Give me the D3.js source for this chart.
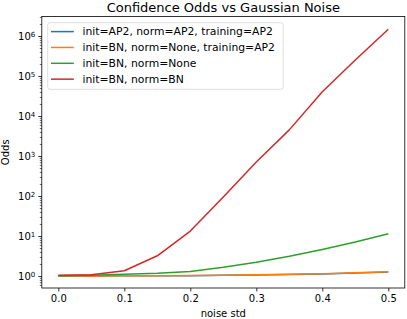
<!DOCTYPE html>
<html>
<head>
<meta charset="utf-8">
<script src="https://cdn.jsdelivr.net/npm/d3@7"></script>
<style>
  body { margin: 0; background: #fff; }
  text { font-family: "DejaVu Sans", sans-serif; }
</style>
</head>
<body>
<div id="chart"></div>
<script>
// data
const noiseStd = [0, 0.05, 0.1, 0.15, 0.2, 0.25, 0.3, 0.35, 0.4, 0.45, 0.5];
const seriesNames = [
  "init=AP2, norm=AP2, training=AP2",
  "init=BN, norm=None, training=AP2",
  "init=BN, norm=None",
  "init=BN, norm=BN"
];
const ap2Odds = [1.0, 1.0, 1.01, 1.01, 1.02, 1.04, 1.06, 1.09, 1.13, 1.19, 1.26];
const bnNoneAp2Odds = [1.0, 1.0, 1.01, 1.02, 1.03, 1.05, 1.07, 1.1, 1.14, 1.2, 1.27];
const bnNoneOdds = [1.02, 1.04, 1.1, 1.17, 1.3, 1.65, 2.2, 3.1, 4.6, 7.1, 11.4];
const bnBnOdds = [1.05, 1.07, 1.35, 3.2, 13.3, 94, 710, 4500, 40500, 2.5e5, 1.47e6];
const colors = ["#1f77b4", "#ff7f0e", "#2ca02c", "#d62728"];
const xTicks = [0, 0.1, 0.2, 0.3, 0.4, 0.5];
const yTicks = [1, 10, 100, 1000, 10000, 100000, 1000000];

const width = 407, height = 319;
const margin = { top: 16.5, right: 2.2, bottom: 31, left: 41.8 };

const svg = d3.select("#chart").append("svg")
  .attr("width", width).attr("height", height);

const x = d3.scaleLinear()
  .domain([-0.025, 0.525])
  .range([margin.left, width - margin.right]);

const y = d3.scaleLog()
  .domain([Math.pow(10, -0.3), Math.pow(10, 6.4875)])
  .range([height - margin.bottom, margin.top]);

// lines
const line = d3.line()
  .x((d, i) => x(noiseStd[i]))
  .y(d => y(d));

const allSeries = [ap2Odds, bnNoneAp2Odds, bnNoneOdds, bnBnOdds];

const plot = svg.append("g");
plot.append("clipPath").attr("id", "clip")
  .append("rect")
  .attr("x", margin.left).attr("y", margin.top)
  .attr("width", width - margin.left - margin.right)
  .attr("height", height - margin.top - margin.bottom);

plot.selectAll("path.series")
  .data(allSeries)
  .join("path")
  .attr("class", "series")
  .attr("clip-path", "url(#clip)")
  .attr("fill", "none")
  .attr("stroke", (d, i) => colors[i])
  .attr("stroke-width", 1.5)
  .attr("stroke-linejoin", "round")
  .attr("d", line);

// x axis
const xAxis = svg.append("g")
  .attr("transform", `translate(0,${height - margin.bottom})`)
  .call(d3.axisBottom(x).tickValues(xTicks).tickFormat(d3.format(".1f"))
    .tickSize(3.5).tickPadding(3.5));
xAxis.select(".domain").remove();
xAxis.selectAll("line").attr("stroke", "#000").attr("stroke-width", 0.8);
xAxis.selectAll("text").attr("font-size", 10).attr("fill", "#000")
  .attr("font-family", "DejaVu Sans");

// y axis with minor ticks
const minor = [];
for (let e = -1; e <= 6; e++) {
  for (let m = 2; m <= 9; m++) {
    const v = m * Math.pow(10, e);
    if (v >= y.domain()[0] && v <= y.domain()[1]) minor.push(v);
  }
}
const yMinor = svg.append("g")
  .attr("transform", `translate(${margin.left},0)`)
  .call(d3.axisLeft(y).tickValues(minor).tickFormat("").tickSize(2));
yMinor.select(".domain").remove();
yMinor.selectAll("line").attr("stroke", "#000").attr("stroke-width", 0.6);

const yAxis = svg.append("g")
  .attr("transform", `translate(${margin.left},0)`)
  .call(d3.axisLeft(y).tickValues(yTicks).tickFormat("").tickSize(3.5));
yAxis.select(".domain").remove();
yAxis.selectAll("line").attr("stroke", "#000").attr("stroke-width", 0.8);

const yLabels = yAxis.selectAll("g.tick").append("text")
  .attr("x", -6.5)
  .attr("dy", "0.36em")
  .attr("text-anchor", "end")
  .attr("fill", "#000")
  .attr("font-size", 10);
yLabels.append("tspan").text("10");
yLabels.append("tspan")
  .attr("dy", "-0.45em")
  .attr("font-size", 7)
  .text(d => Math.round(Math.log10(d)));

// frame
svg.append("rect")
  .attr("x", margin.left).attr("y", margin.top)
  .attr("width", width - margin.left - margin.right)
  .attr("height", height - margin.top - margin.bottom)
  .attr("fill", "none").attr("stroke", "#000").attr("stroke-width", 0.8);

// titles
svg.append("text")
  .attr("x", (margin.left + width - margin.right) / 2)
  .attr("y", 12)
  .attr("text-anchor", "middle")
  .attr("font-size", 13)
  .text("Confidence Odds vs Gaussian Noise");

svg.append("text")
  .attr("x", (margin.left + width - margin.right) / 2)
  .attr("y", 317)
  .attr("text-anchor", "middle")
  .attr("font-size", 10)
  .text("noise std");

svg.append("text")
  .attr("transform", `translate(9,${(margin.top + height - margin.bottom) / 2}) rotate(-90)`)
  .attr("text-anchor", "middle")
  .attr("font-size", 10)
  .text("Odds");

// legend
const legend = svg.append("g");
legend.append("rect")
  .attr("x", 47.7).attr("y", 22.7)
  .attr("width", 235.6).attr("height", 66.6)
  .attr("rx", 2.5)
  .attr("fill", "#fff").attr("fill-opacity", 0.8)
  .attr("stroke", "#d6d6d6").attr("stroke-width", 0.8);

const items = legend.selectAll("g.item")
  .data(seriesNames)
  .join("g")
  .attr("class", "item")
  .attr("transform", (d, i) => `translate(0,${31.6 + i * 15.85})`);
items.append("line")
  .attr("x1", 51).attr("x2", 73.8)
  .attr("stroke", (d, i) => colors[i])
  .attr("stroke-width", 1.5);
items.append("text")
  .attr("x", 82.5)
  .attr("dy", "0.36em")
  .attr("font-size", 10.8)
  .text(d => d);
</script>
</body>
</html>
